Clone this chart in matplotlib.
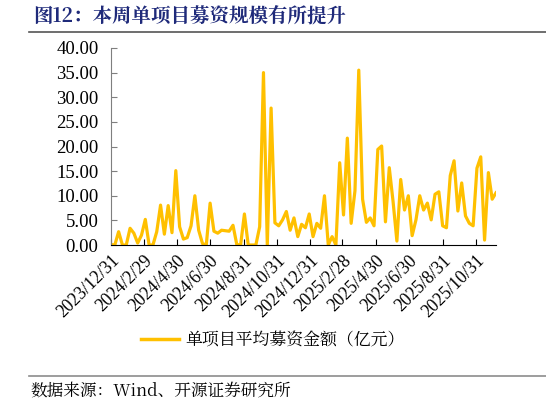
import matplotlib
matplotlib.use("Agg")
import matplotlib.pyplot as plt
from matplotlib.lines import Line2D
import pandas as pd

# ---- data ----
start_date = "2023-12-31"
values = [0.1, 0.0, 2.7, 0.0, 0.0, 3.4, 2.4, 0.4, 2.0, 5.2,
          0.0, 0.0, 2.7, 8.1, 2.2, 8.0, 2.5, 15.1, 3.7, 1.2,
          1.5, 3.9, 10.0, 3.0, 0.3, 0.0, 8.5, 2.8, 2.4, 3.0,
          2.9, 2.8, 4.0, 0.1, 0.0, 6.3, 0.0, 0.0, 0.0, 3.7,
          35.0, 0.0, 27.8, 4.5, 3.9, 5.1, 6.8, 3.0, 5.5, 1.7,
          4.2, 3.5, 6.3, 1.7, 4.4, 3.4, 10.0, 0.0, 1.7, 0.0,
          16.7, 6.1, 21.7, 4.4, 11.0, 35.5, 9.3, 4.6, 5.5, 3.9,
          19.4, 20.1, 4.7, 15.7, 8.8, 0.8, 13.3, 7.1, 10.0, 1.9,
          5.1, 10.0, 7.1, 8.5, 5.1, 10.3, 10.8, 3.9, 3.5, 14.1,
          17.1, 6.9, 12.6, 5.9, 4.4, 3.9, 15.6, 17.9, 1.0, 14.7,
          9.3, 10.6]
dates = pd.date_range(start_date, periods=len(values), freq="7D")
tick_labels = ["2023/12/31", "2024/2/29", "2024/4/30", "2024/6/30", "2024/8/31",
               "2024/10/31", "2024/12/31", "2025/2/28", "2025/4/30", "2025/6/30",
               "2025/8/31", "2025/10/31"]
y_ticks = [0, 5, 10, 15, 20, 25, 30, 35, 40]
series_name = "单项目平均募资金额（亿元）"
title = "图12：本周单项目募资规模有所提升"
source = "数据来源：Wind、开源证券研究所"

plt.rcParams['font.family'] = ['Liberation Serif', 'Noto Serif CJK SC', 'Noto Sans CJK SC', 'DejaVu Sans']
cjk = ['Noto Serif CJK SC', 'Noto Sans CJK SC', 'Liberation Serif']

W, H = 546, 405
fig = plt.figure(figsize=(W / 100, H / 100), dpi=100)
ax = fig.add_axes([111 / W, 1 - 245 / H, (496 - 111) / W, (245 - 48) / H])

line_color = "#FFC000"
ax.plot(dates, values, color=line_color, lw=2.3, solid_joinstyle="round", label=series_name)

ax.set_xlim(dates[0], dates[-1])
ax.set_ylim(0, 40)
ax.set_yticks(y_ticks)
ax.set_yticklabels([f"{v:.2f}" for v in y_ticks], fontsize=13.5)

tick_dates = pd.to_datetime(tick_labels, format="%Y/%m/%d")
ax.set_xticks(tick_dates)
ax.set_xticklabels(tick_labels, rotation=45, ha="right", va="top",
                   rotation_mode="anchor", fontsize=12.7)

for s in ["top", "right"]:
    ax.spines[s].set_visible(False)
ax.spines["left"].set_color("#7f7f7f")
ax.spines["bottom"].set_color("black")
ax.tick_params(axis="both", direction="in", length=4, width=0.8)
ax.tick_params(axis="y", colors="#7f7f7f", labelcolor="black", pad=9)
ax.tick_params(axis="x", pad=5)

# legend
leg_handle = Line2D([0], [0], color=line_color, lw=2.5)
fig.legend([leg_handle], [series_name], loc="center left", bbox_to_anchor=(126 / W, 1 - 340 / H),
           frameon=False, handlelength=2.2, handletextpad=0.4,
           prop={'family': cjk, 'size': 12.2})

# title and separators
fig.text(33 / W, 1 - 16 / H, title, fontsize=14, fontweight="bold", color="#1F2A7A",
         ha="left", va="center", family=cjk)
fig.add_artist(Line2D([29 / W, 1.0], [1 - 32 / H, 1 - 32 / H], color="#555555", lw=1.2))
fig.add_artist(Line2D([29 / W, 1.0], [1 - 376 / H, 1 - 376 / H], color="#8c8c8c", lw=1.2))
fig.text(30 / W, 1 - 391 / H, source, fontsize=12, color="black", ha="left", va="center",
         family=cjk)

fig.savefig("out.png", dpi=100)
